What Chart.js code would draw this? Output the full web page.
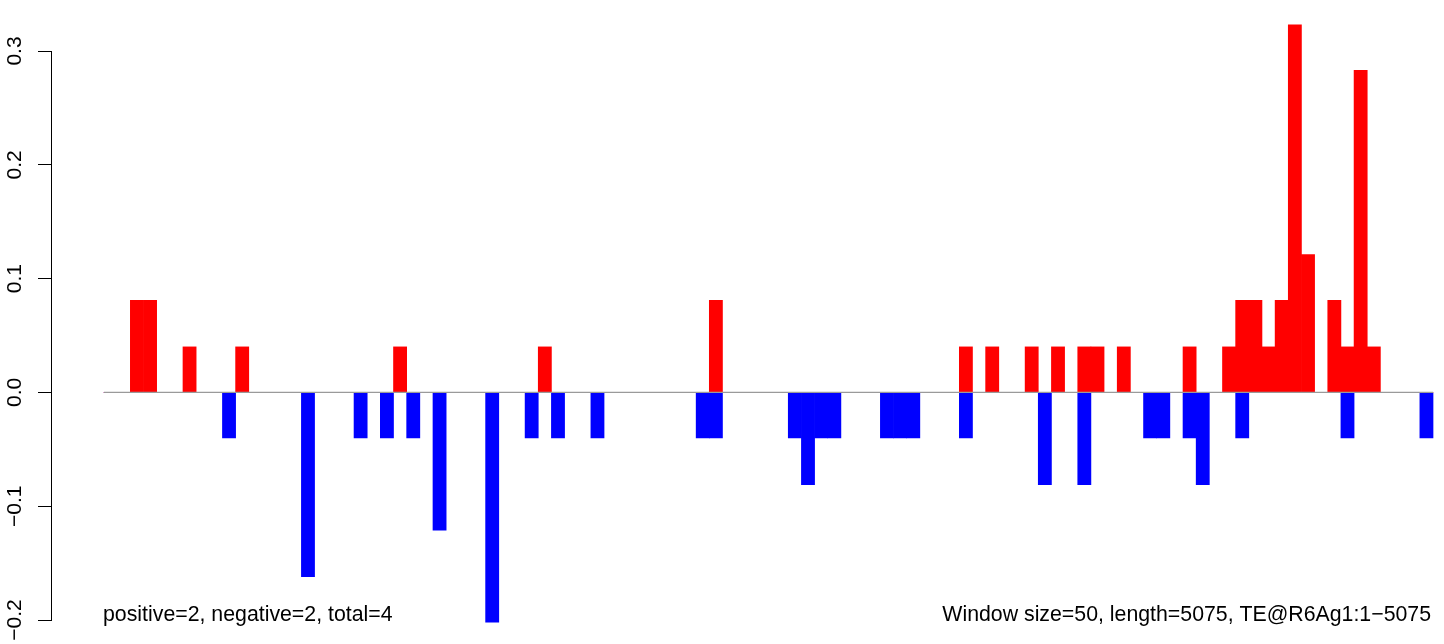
<!DOCTYPE html>
<html>
<head>
<meta charset="utf-8">
<script src="https://cdn.jsdelivr.net/npm/chart.js@4/dist/chart.umd.min.js"></script>
<style>
  html, body { margin: 0; padding: 0; background: #fff; }
  #wrap { width: 1444px; height: 644px; position: relative; }
</style>
</head>
<body>
<div id="wrap"><canvas id="c" width="1444" height="644"></canvas></div>
<script>
// window index 0..100 (window size 50 bp)
const windows = Array.from({length: 101}, (_, i) => i);

const positive = [
  0, 0, 0.081, 0.081, 0, 0, 0.04, 0, 0, 0,
  0.04, 0, 0, 0, 0, 0, 0, 0, 0, 0,
  0, 0, 0.04, 0, 0, 0, 0, 0, 0, 0,
  0, 0, 0, 0.04, 0, 0, 0, 0, 0, 0,
  0, 0, 0, 0, 0, 0, 0.081, 0, 0, 0,
  0, 0, 0, 0, 0, 0, 0, 0, 0, 0,
  0, 0, 0, 0, 0, 0.04, 0, 0.04, 0, 0,
  0.04, 0, 0.04, 0, 0.04, 0.04, 0, 0.04, 0, 0,
  0, 0, 0.04, 0, 0, 0.04, 0.081, 0.081, 0.04, 0.081,
  0.323, 0.121, 0, 0.081, 0.04, 0.283, 0.04, 0, 0, 0,
  0
];

const negative = [
  0, 0, 0, 0, 0, 0, 0, 0, 0, -0.04,
  0, 0, 0, 0, 0, -0.162, 0, 0, 0, -0.04,
  0, -0.04, 0, -0.04, 0, -0.121, 0, 0, 0, -0.202,
  0, 0, -0.04, 0, -0.04, 0, 0, -0.04, 0, 0,
  0, 0, 0, 0, 0, -0.04, -0.04, 0, 0, 0,
  0, 0, -0.04, -0.081, -0.04, -0.04, 0, 0, 0, -0.04,
  -0.04, -0.04, 0, 0, 0, -0.04, 0, 0, 0, 0,
  0, -0.081, 0, 0, -0.081, 0, 0, 0, 0, -0.04,
  -0.04, 0, -0.04, -0.081, 0, 0, -0.04, 0, 0, 0,
  0, 0, 0, 0, -0.04, 0, 0, 0, 0, 0,
  -0.04
];

const yTicks = [-0.2, -0.1, 0.0, 0.1, 0.2, 0.3];
const leftNote = 'positive=2, negative=2, total=4';
const rightNote = 'Window size=50, length=5075, TE@R6Ag1:1\u22125075';

const FONT = '"Liberation Sans", Arial, Helvetica, sans-serif';

const notesPlugin = {
  id: 'notes',
  afterDraw(chart) {
    const ctx = chart.ctx;
    const xs = chart.scales.x;
    ctx.save();
    ctx.font = '21.3px ' + FONT;
    ctx.fillStyle = '#000';
    ctx.textBaseline = 'alphabetic';
    ctx.textAlign = 'left';
    ctx.fillText(leftNote, xs.getPixelForValue(0) - 1, 621);
    ctx.textAlign = 'right';
    ctx.fillText(rightNote, xs.getPixelForValue(windows.length) - 2, 621);
    ctx.restore();
  }
};

new Chart(document.getElementById('c'), {
  type: 'bar',
  data: {
    datasets: [
      {
        type: 'line',
        data: [{x: 0, y: 0}, {x: windows.length, y: 0}],
        borderColor: '#9a9a9a',
        borderWidth: 1.2,
        pointRadius: 0,
        order: 0
      },
      {
        data: windows.map(i => ({x: i + 0.5, y: positive[i]})),
        backgroundColor: '#ff0000',
        borderWidth: 0,
        grouped: false,
        clip: false,
        categoryPercentage: 1,
        barPercentage: 1,
        order: 1
      },
      {
        data: windows.map(i => ({x: i + 0.5, y: negative[i]})),
        backgroundColor: '#0000ff',
        borderWidth: 0,
        grouped: false,
        clip: false,
        categoryPercentage: 1,
        barPercentage: 1,
        order: 1
      }
    ]
  },
  options: {
    responsive: false,
    animation: false,
    events: [],
    layout: { padding: { top: 51, bottom: 24, left: 0, right: 4 } },
    plugins: { legend: { display: false }, tooltip: { enabled: false }, title: { display: false } },
    scales: {
      x: {
        type: 'linear',
        display: false,
        offset: false,
        grid: { offset: false },
        min: -4.03,
        max: 101.53
      },
      y: {
        min: yTicks[0],
        max: yTicks[yTicks.length - 1],
        afterFit(scale) { scale.width = 51; },
        afterBuildTicks(scale) { scale.ticks = yTicks.map(v => ({value: v})); },
        border: { display: true, color: '#000', width: 1 },
        grid: { drawOnChartArea: false, drawTicks: true, tickLength: 13, color: '#000', lineWidth: 1 },
        ticks: {
          minRotation: 90,
          maxRotation: 90,
          crossAlign: 'center',
          padding: 2,
          color: '#000',
          font: { family: FONT, size: 21 },
          callback: v => v.toFixed(1).replace('-', '\u2212')
        }
      }
    }
  },
  plugins: [notesPlugin]
});
</script>
</body>
</html>
